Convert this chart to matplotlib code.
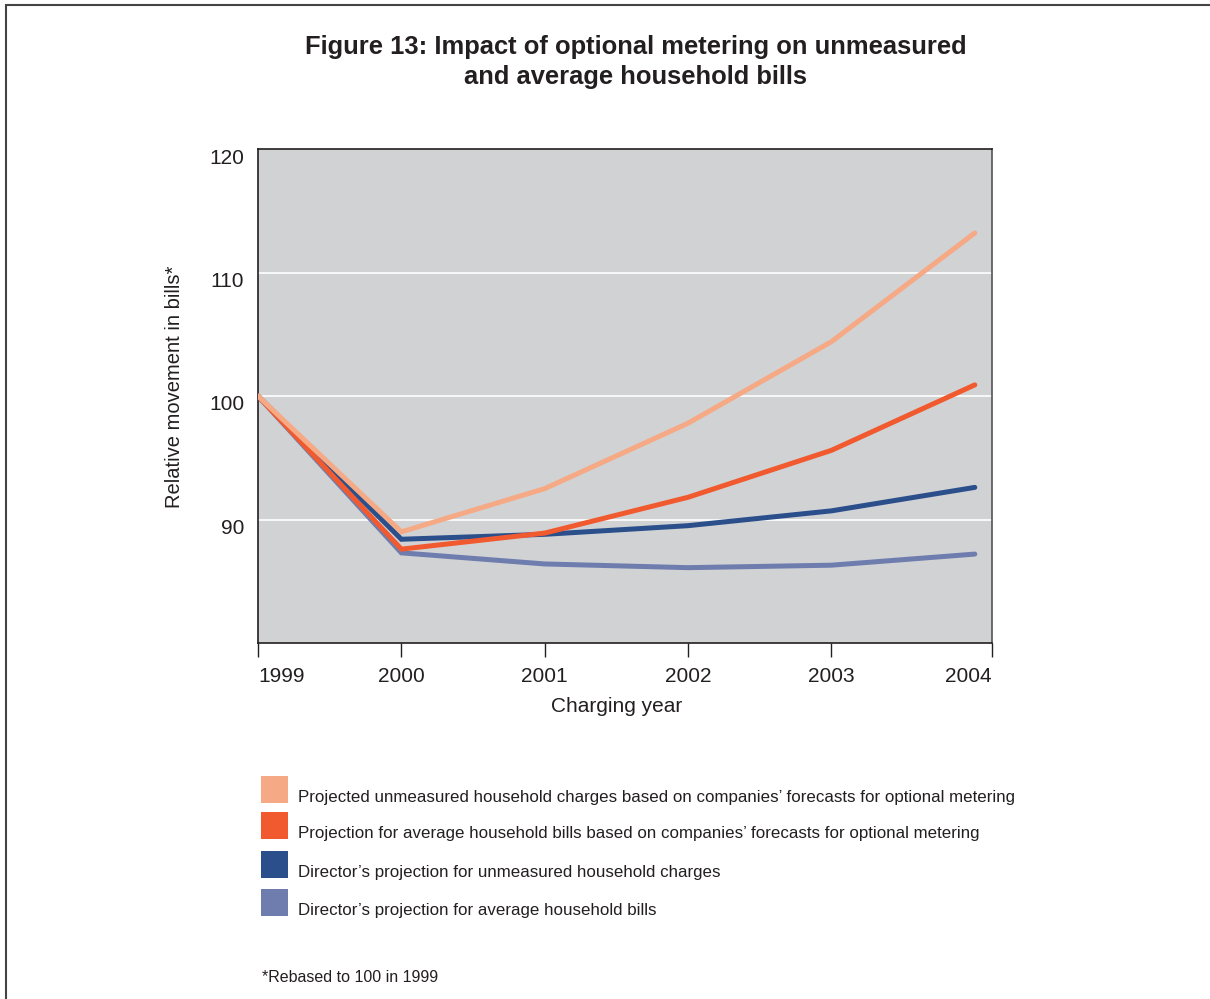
import matplotlib.pyplot as plt
import matplotlib.transforms as mtransforms
from matplotlib.patches import Rectangle

plt.rcParams['font.family'] = ['Liberation Sans', 'DejaVu Sans']

# Data (rebased to 100 in 1999)
years = [1999, 2000, 2001, 2002, 2003, 2004]
proj_unmeasured = [100, 89.0, 92.5, 97.8, 104.4, 113.2]
proj_average = [100, 87.6, 88.9, 91.8, 95.6, 100.9]
dir_unmeasured = [100, 88.4, 88.8, 89.5, 90.7, 92.6]
dir_average = [100, 87.3, 86.4, 86.1, 86.3, 87.2]

series_labels = [
    'Projected unmeasured household charges based on companies\u2019 forecasts for optional metering',
    'Projection for average household bills based on companies\u2019 forecasts for optional metering',
    'Director\u2019s projection for unmeasured household charges',
    'Director\u2019s projection for average household bills',
]
colors = ['#F6A985', '#F15A2E', '#2B4F8B', '#6E7DAE']
series = [proj_unmeasured, proj_average, dir_unmeasured, dir_average]

W, H = 1210, 999
fig = plt.figure(figsize=(W / 100, H / 100), dpi=100)

# outer frame (only left and top edges visible)
fig.add_artist(Rectangle((6 / W, -0.05), 1.1, 1 - 5 / H + 0.05, transform=fig.transFigure,
                         fill=False, edgecolor='#444444', linewidth=1.5, clip_on=False))

ax = fig.add_axes([258 / W, 1 - 643 / H, 734 / W, 494 / H])
ax.set_facecolor('#D1D2D4')

# draw lines, lightest salmon on top
for vals, c, z in zip(series, colors, [5, 4, 3, 2]):
    ax.plot(years, vals, color=c, linewidth=3.6, solid_capstyle='round',
            solid_joinstyle='miter', zorder=z)

ax.set_ylim(80, 120)
ax.set_xlim(1999, 2004.12)

ax.set_yticks([90, 100, 110, 120])
ax.set_yticklabels(['90', '100', '110', '120'], fontsize=15, color='#231F20')
ax.tick_params(axis='y', length=0, pad=10)
offset = mtransforms.ScaledTranslation(0, -7 / 100, fig.dpi_scale_trans)
for lbl in ax.get_yticklabels():
    lbl.set_transform(lbl.get_transform() + offset)

for yv in [90, 100, 110]:
    ax.axhline(yv, color='white', linewidth=1.2, zorder=1)

xt = [1999, 2000, 2001, 2002, 2003, 2004.12]
ax.set_xticks(xt)
ax.set_xticklabels([str(y) for y in years], fontsize=15, color='#231F20')
ax.tick_params(axis='x', length=10, width=1, color='#231F20', pad=7)
xl = ax.get_xticklabels()
xl[0].set_ha('left')
xl[-1].set_ha('right')

for side in ['left', 'bottom', 'top']:
    ax.spines[side].set_color('#231F20')
    ax.spines[side].set_linewidth(1.2)
ax.spines['right'].set_color('#555555')
ax.spines['right'].set_linewidth(1.2)

ax.set_xlabel('Charging year', fontsize=15, color='#231F20')
ax.xaxis.set_label_coords((617 - 258) / 734, (643 - 697) / 494)
ax.set_ylabel('Relative movement in bills*', fontsize=14.5, color='#231F20')
ax.yaxis.set_label_coords((184 - 258) / 734, (643 - 387) / 494)

fig.text(636 / W, 1 - 62 / H,
         'Figure 13: Impact of optional metering on unmeasured\nand average household bills',
         ha='center', va='center', fontsize=18.4, fontweight='bold', color='#231F20',
         linespacing=1.3)

# legend drawn as colour squares with text
sq_top = [776, 812, 851, 889]
for top, c, lab in zip(sq_top, colors, series_labels):
    fig.add_artist(Rectangle((261 / W, 1 - (top + 27) / H), 27 / W, 27 / H,
                             transform=fig.transFigure, facecolor=c, edgecolor='none'))
    fig.text(298 / W, 1 - (top + 21.5) / H, lab, ha='left', va='center',
             fontsize=12.2, color='#231F20')

fig.text(262 / W, 1 - 978 / H, '*Rebased to 100 in 1999', ha='left', va='center',
         fontsize=11.5, color='#231F20')

fig.savefig('out.png', dpi=100)
